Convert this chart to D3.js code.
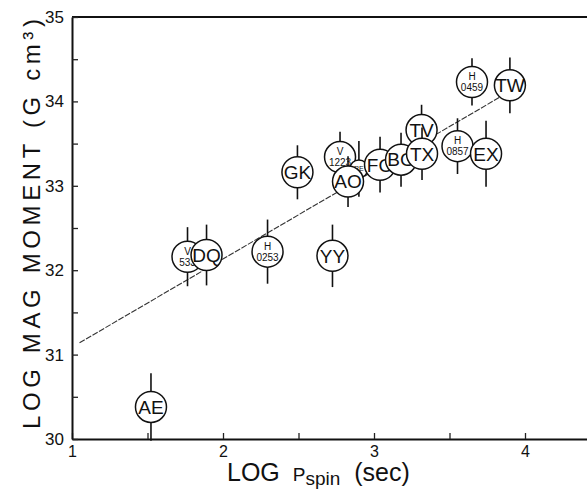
<!DOCTYPE html>
<html>
<head>
<meta charset="utf-8">
<script src="https://cdn.jsdelivr.net/npm/d3@7"></script>
<style>
  body { margin: 0; background: #fff; }
  text { font-family: "Liberation Sans", Arial, sans-serif; fill: #111; }
</style>
</head>
<body>
<div id="chart"></div>
<script>
// star names, log spin period (sec), log magnetic moment, error on moment
const names = ["AE", "V533", "DQ", "H0253", "YY", "GK", "V1223", "RE", "AO", "FO", "BG", "TV", "TX", "H0857", "EX", "H0459", "TW"];
const logP  = [1.523, 1.765, 1.891, 2.295, 2.725, 2.493, 2.775, 2.90, 2.828, 3.04, 3.179, 3.315, 3.318, 3.553, 3.742, 3.649, 3.90];
const logMu = [30.38, 32.16, 32.18, 32.22, 32.17, 33.16, 33.34, 33.20, 33.05, 33.25, 33.31, 33.66, 33.38, 33.47, 33.38, 34.23, 34.19];
const errMu = [0.40, 0.35, 0.36, 0.38, 0.37, 0.32, 0.30, 0.33, 0.30, 0.33, 0.32, 0.30, 0.31, 0.33, 0.39, 0.28, 0.33];

// fitted line end points
const fitX = [1.05, 3.90];
const fitY = [31.14, 34.12];

const xTicks = [1, 1.5, 2, 2.5, 3, 3.5, 4, 4.5];
const yTicks = [30, 30.5, 31, 31.5, 32, 32.5, 33, 33.5, 34, 34.5, 35];

let width = 587, height = 492;
let margin = { top: 17, left: 72, bottom: 53 };

let svg = d3.select("#chart").append("svg")
    .attr("width", width)
    .attr("height", height);

// set the ranges
let x = d3.scaleLinear().domain([1, 4.5]).range([margin.left, margin.left + 3.5 * 151]);
let y = d3.scaleLinear().domain([30, 35]).range([height - margin.bottom, margin.top]);

// top frame line
svg.append("line")
    .attr("x1", x(1)).attr("x2", width)
    .attr("y1", y(35)).attr("y2", y(35))
    .attr("stroke", "#111").attr("stroke-width", 2.2);

// x axis, ticks pointing inward
let xAxis = svg.append("g")
    .attr("transform", "translate(0," + y(30) + ")")
    .call(d3.axisBottom(x).tickValues(xTicks).tickSizeInner(-6).tickSizeOuter(0)
        .tickFormat(d => Number.isInteger(d) ? d : ""));
xAxis.select(".domain").attr("stroke", "#111").attr("stroke-width", 2);
xAxis.selectAll(".tick line").attr("stroke", "#222").attr("stroke-width", 1.3);
xAxis.selectAll(".tick text")
    .attr("y", 7).attr("dy", "0.71em")
    .style("font-size", "16px").style("font-family", "Liberation Sans Narrow, Liberation Sans, sans-serif");

// y axis
let yAxis = svg.append("g")
    .attr("transform", "translate(" + x(1) + ",0)")
    .call(d3.axisLeft(y).tickValues(yTicks).tickSizeInner(-6).tickSizeOuter(0)
        .tickFormat(d => Number.isInteger(d) ? d : ""));
yAxis.select(".domain").attr("stroke", "#111").attr("stroke-width", 2);
yAxis.selectAll(".tick line").attr("stroke", "#222").attr("stroke-width", 1.3);
yAxis.selectAll(".tick text")
    .attr("x", -8)
    .style("font-size", "17px").style("font-family", "Liberation Sans Narrow, Liberation Sans, sans-serif");

// fit line
svg.append("line")
    .attr("x1", x(fitX[0])).attr("y1", y(fitY[0]))
    .attr("x2", x(fitX[1])).attr("y2", y(fitY[1]))
    .attr("stroke", "#333").attr("stroke-width", 1.1)
    .attr("stroke-dasharray", "6,1.5");

// points
let data = names.map((n, i) => ({ name: n, p: logP[i], m: logMu[i], e: errMu[i] }));
let radius = d => d.name === "RE" ? 9 : 15.5;
let narrow = "Liberation Sans Narrow, Liberation Sans, sans-serif";

let pts = svg.selectAll(".pt")
    .data(data)
    .enter().append("g")
    .attr("class", "pt");

pts.append("line")
    .attr("x1", d => x(d.p)).attr("x2", d => x(d.p))
    .attr("y1", d => y(d.m - d.e)).attr("y2", d => y(d.m + d.e))
    .attr("stroke", "#111").attr("stroke-width", 1.6);

pts.append("circle")
    .attr("cx", d => x(d.p)).attr("cy", d => y(d.m))
    .attr("r", radius)
    .attr("fill", "#fff").attr("stroke", "#111").attr("stroke-width", 1.5);

pts.each(function (d) {
    let g = d3.select(this);
    let cx = x(d.p), cy = y(d.m);
    let m = d.name.match(/^([VH])(\d+)$/);
    if (m) {
        g.append("text").attr("x", cx).attr("y", cy - 2)
            .attr("text-anchor", "middle")
            .style("font-family", narrow).style("font-size", "10px")
            .text(m[1]);
        g.append("text").attr("x", cx).attr("y", cy + 9)
            .attr("text-anchor", "middle")
            .style("font-family", narrow).style("font-size", "10px")
            .text(m[2]);
    } else {
        let small = radius(d) < 12;
        g.append("text").attr("x", cx).attr("y", cy)
            .attr("dy", "0.36em")
            .attr("text-anchor", "middle")
            .style("font-family", narrow).style("font-size", small ? "7px" : "19px")
            .text(d.name);
    }
});

// x axis title
let xt = svg.append("text")
    .attr("x", 227).attr("y", 481)
    .style("font-size", "25px");
xt.append("tspan").text("LOG ");
xt.append("tspan").attr("dx", 6).style("font-size", "19px").text("P");
xt.append("tspan").attr("dy", 4).style("font-size", "19px").text("spin");
xt.append("tspan").attr("dy", -4).attr("dx", 14).text("(sec)");

// y axis title
svg.append("text")
    .attr("transform", "translate(40,224) rotate(-90)")
    .attr("text-anchor", "middle")
    .attr("textLength", 410)
    .attr("lengthAdjust", "spacing")
    .style("font-size", "24px")
    .text("LOG MAG MOMENT (G cm³)");
</script>
</body>
</html>
